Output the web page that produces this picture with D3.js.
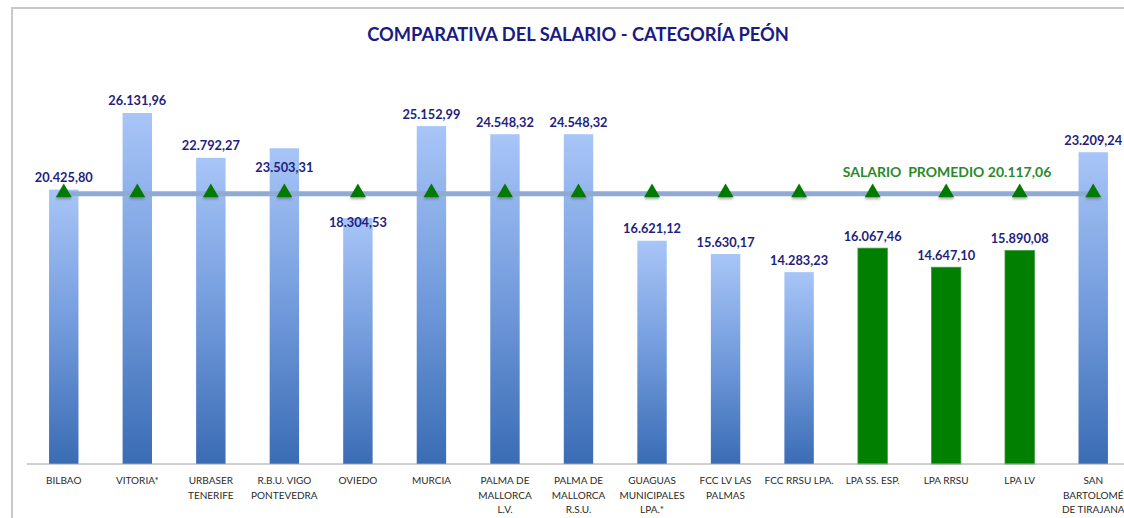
<!DOCTYPE html>
<html>
<head>
<meta charset="utf-8">
<script src="https://cdn.jsdelivr.net/npm/d3@7"></script>
<style>
  body { margin: 0; background: #fff; }
  svg { display: block; }
  text { font-family: Lato, "Open Sans", sans-serif; }
</style>
</head>
<body>
<svg id="chart" width="1124" height="518"></svg>
<script>
// chart values
const categories = [
  'BILBAO', 'VITORIA*', 'URBASER\nTENERIFE', 'R.B.U. VIGO\nPONTEVEDRA', 'OVIEDO',
  'MURCIA', 'PALMA DE\nMALLORCA\nL.V.', 'PALMA DE\nMALLORCA\nR.S.U.',
  'GUAGUAS\nMUNICIPALES\nLPA.*', 'FCC LV LAS\nPALMAS', 'FCC RRSU LPA.',
  'LPA SS. ESP.', 'LPA RRSU', 'LPA LV', 'SAN\nBARTOLOMÉ\nDE TIRAJANA'
];
const salaries = [
  20425.80, 26131.96, 22792.27, 23503.31, 18304.53,
  25152.99, 24548.32, 24548.32, 16621.12, 15630.17,
  14283.23, 16067.46, 14647.10, 15890.08, 23209.24
];
const highlighted = ['LPA SS. ESP.', 'LPA RRSU', 'LPA LV'];
const averageSalary = [20117.06];
const yDomain = [0, 30000];

const title = 'COMPARATIVA DEL SALARIO - CATEGORÍA PEÓN';
const averageLabel = 'SALARIO  PROMEDIO ';

const svg = d3.select('#chart');
const es = d3.formatLocale({ decimal: ',', thousands: '.', grouping: [3], currency: ['', ''] });
const fmt = es.format(',.2f');

const data = categories.map((c, i) => ({ cat: c, value: salaries[i], green: highlighted.includes(c) }));

const x = d3.scaleBand().domain(categories).range([27, 1130]).paddingInner(0.6).paddingOuter(0.3);
const y = d3.scaleLinear().domain(yDomain).range([464, 61]);
const cx = d => x(d.cat) + x.bandwidth() / 2;

// frame
svg.append('rect')
  .attr('x', 12).attr('y', 8).attr('width', 1200).attr('height', 600)
  .attr('fill', 'none').attr('stroke', '#c9c9c9').attr('stroke-width', 2);

const defs = svg.append('defs');
const grad = defs.append('linearGradient').attr('id', 'barGrad')
  .attr('x1', 0).attr('y1', 0).attr('x2', 0).attr('y2', 1);
grad.append('stop').attr('offset', '0%').attr('stop-color', '#a8c5f7');
grad.append('stop').attr('offset', '50%').attr('stop-color', '#729bdc');
grad.append('stop').attr('offset', '100%').attr('stop-color', '#3a6cb4');

const shadow = defs.append('filter').attr('id', 'shadow')
  .attr('x', '-50%').attr('y', '-100%').attr('width', '200%').attr('height', '300%');
shadow.append('feDropShadow').attr('dx', 0).attr('dy', 2).attr('stdDeviation', 1)
  .attr('flood-color', '#555').attr('flood-opacity', 0.45);

// title
svg.append('text')
  .attr('x', 578).attr('y', 41)
  .attr('text-anchor', 'middle')
  .attr('font-size', 18.3).attr('font-weight', 'bold')
  .attr('fill', '#1b1b82')
  .text(title);

// bars
svg.append('g').selectAll('rect').data(data).join('rect')
  .attr('x', d => x(d.cat))
  .attr('y', d => y(d.value))
  .attr('width', x.bandwidth())
  .attr('height', d => y(0) - y(d.value))
  .attr('fill', d => d.green ? '#007f00' : 'url(#barGrad)')
  .attr('stroke', d => d.green ? '#3a9a3a' : 'none')
  .attr('stroke-width', 0.8);

// axis line
svg.append('line')
  .attr('x1', 27).attr('x2', 1124)
  .attr('y1', y(0)).attr('y2', y(0))
  .attr('stroke', '#a0a0a0').attr('stroke-width', 1);

// category labels
const catLabels = svg.append('g').selectAll('text').data(data).join('text')
  .attr('x', d => cx(d))
  .attr('y', 484)
  .attr('text-anchor', 'middle')
  .attr('font-size', 10)
  .attr('fill', '#2a2a2a');
catLabels.selectAll('tspan').data(d => d.cat.split('\n').map(l => ({ l, x: cx(d) })))
  .join('tspan')
  .attr('x', t => t.x)
  .attr('dy', (t, i) => i === 0 ? 0 : 14.5)
  .text(t => t.l);

// average line with triangle markers
const avg = averageSalary[0];
const avgY = y(avg);
svg.append('rect')
  .attr('x', cx(data[0])).attr('width', cx(data[data.length - 1]) - cx(data[0]))
  .attr('y', avgY - 2.5).attr('height', 5)
  .attr('fill', '#8fabd3');

const tri = d3.symbol().type(d3.symbolTriangle).size(110);
svg.append('g').selectAll('path').data(data).join('path')
  .attr('d', tri)
  .attr('transform', d => `translate(${cx(d)},${avgY - 1})`)
  .attr('fill', '#007a00')
  .attr('filter', 'url(#shadow)');

// value labels (a couple are nudged below the bar top, as in the original)
const labelShift = { 'R.B.U. VIGO\nPONTEVEDRA': 19, 'OVIEDO': 4 };
svg.append('g').selectAll('text').data(data).join('text')
  .attr('x', d => cx(d))
  .attr('y', d => y(d.value) + (labelShift[d.cat] !== undefined ? labelShift[d.cat] : -12))
  .attr('dy', '0.35em')
  .attr('text-anchor', 'middle')
  .attr('font-size', 12.8).attr('font-weight', 'bold')
  .attr('fill', '#1f1f7e')
  .text(d => fmt(d.value));

// average label
svg.append('text')
  .attr('x', 947).attr('y', avgY - 22)
  .attr('dy', '0.35em')
  .attr('text-anchor', 'middle')
  .attr('font-size', 14).attr('font-weight', 'bold')
  .attr('fill', '#2a8a2a')
  .style('white-space', 'pre')
  .text(averageLabel + fmt(avg));
</script>
</body>
</html>
